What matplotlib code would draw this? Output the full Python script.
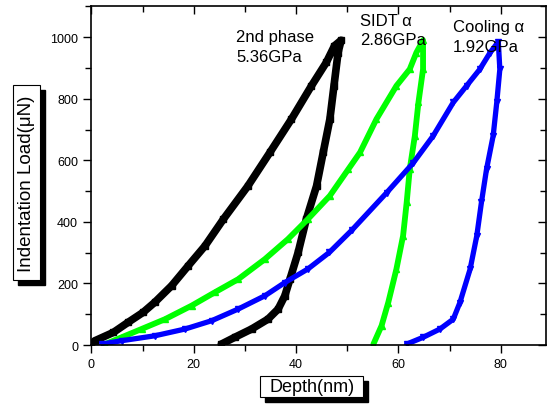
import matplotlib.pyplot as plt
from matplotlib.ticker import MultipleLocator
from matplotlib.patches import Rectangle

# Loading branch then unloading branch for each test.
black_x = [0, 0.7, 4.3, 7.2, 10.1, 12.4, 15.7, 18.9, 22.2, 25.8, 30.6, 34.9, 39.1, 43.0, 45.9, 47.5, 48.8,
           48.2, 47.4, 46.6, 45.3, 44.0, 42.0, 40.4, 38.8, 37.8, 36.5, 34.5, 31.3, 28.0, 25.4]
black_y = [0, 14, 41, 74, 106, 139, 193, 257, 322, 409, 517, 626, 734, 842, 918, 972, 990,
           950, 842, 734, 626, 517, 409, 301, 214, 160, 117, 84, 52, 25, 3]

green_x = [2.7, 5.9, 9.8, 14.4, 19.6, 24.1, 28.7, 33.9, 38.4, 42.3, 46.6, 50.2, 52.5, 55.7, 59.6, 62.2, 63.5, 64.8,
           64.8, 63.9, 63.2, 62.2, 61.6, 60.9, 59.6, 58.0, 56.7, 55.1]
green_y = [3, 25, 52, 84, 128, 171, 214, 279, 344, 409, 485, 571, 626, 734, 842, 896, 950, 990,
           896, 788, 680, 571, 463, 355, 247, 138, 63, 3]

blue_x = [2.0, 5.9, 12.4, 18.3, 23.5, 28.7, 33.9, 37.8, 42.3, 46.5, 51.0, 57.7, 62.9, 66.8, 70.7, 73.3, 75.9, 77.9, 79.5,
          79.8, 79.2, 78.5, 77.2, 76.2, 75.3, 74.0, 72.0, 70.7, 68.1, 64.8, 61.6]
blue_y = [3, 14, 30, 52, 79, 117, 160, 203, 247, 301, 375, 495, 592, 680, 788, 842, 896, 950, 985,
          896, 788, 680, 571, 463, 355, 247, 138, 84, 52, 25, 3]

labels = ["2nd phase\n5.36GPa", "SIDT \u03b1\n2.86GPa", "Cooling \u03b1\n1.92GPa"]
label_x = [28.3, 52.5, 70.6]
label_y = [1025, 1080, 1058]

plt.rcParams['font.family'] = ['Liberation Sans', 'DejaVu Sans']

fig = plt.figure(figsize=(5.47, 4.10), dpi=100)
ax = fig.add_axes([0.167, 0.156, 0.831, 0.826])

ax.plot(black_x, black_y, color='black', lw=5.5, marker='s', ms=5, solid_joinstyle='round', solid_capstyle='round')
ax.plot(green_x, green_y, color='#00ff00', lw=4.2, marker='^', ms=5, solid_joinstyle='round', solid_capstyle='round')
ax.plot(blue_x, blue_y, color='#0000ff', lw=3.8, marker='v', ms=5, solid_joinstyle='round', solid_capstyle='round')

for txt, x, y in zip(labels, label_x, label_y):
    ax.text(x, y, txt, fontsize=12, va='top', ha='left', linespacing=1.35)

ax.set_xlim(0, 88.8)
ax.set_ylim(0, 1100)
ax.xaxis.set_major_locator(MultipleLocator(20))
ax.xaxis.set_minor_locator(MultipleLocator(10))
ax.yaxis.set_minor_locator(MultipleLocator(100))
ax.set_yticks([0, 200, 400, 600, 800, 1000])

for s in ax.spines.values():
    s.set_linewidth(1.2)

ax.tick_params(which='both', top=True, right=True, labelsize=9, width=1, direction='out')
ax.tick_params(which='major', length=6)
ax.tick_params(which='minor', length=4)
# top and right ticks point into the plot
for t in ax.xaxis.get_major_ticks() + ax.xaxis.get_minor_ticks():
    t.tick2line.set_marker(3)
for t in ax.yaxis.get_major_ticks() + ax.yaxis.get_minor_ticks():
    t.tick2line.set_marker(0)

# Boxed axis titles with a drop shadow, as in the original Origin plot.
def boxed(text, x, y, rot, size, padx, pady):
    t = fig.text(x, y, text, ha='center', va='center', rotation=rot, fontsize=size, zorder=5)
    fig.canvas.draw()
    bb = t.get_window_extent()
    w = bb.width + 2 * padx
    h = bb.height + 2 * pady
    x0 = bb.x0 - padx
    y0 = bb.y0 - pady
    fig.add_artist(Rectangle((x0 + 5, y0 - 5), w, h, transform=None, fc='black', ec='black', zorder=3))
    fig.add_artist(Rectangle((x0, y0), w, h, transform=None, fc='white', ec='black', lw=0.8, zorder=4))

boxed("Depth(nm)", 0.570, 0.056, 0, 13, 9, 2)
boxed("Indentation Load(\u03bcN)", 0.0485, 0.552, 90, 13.5, 5, 9)

fig.savefig('out.png', dpi=100)
